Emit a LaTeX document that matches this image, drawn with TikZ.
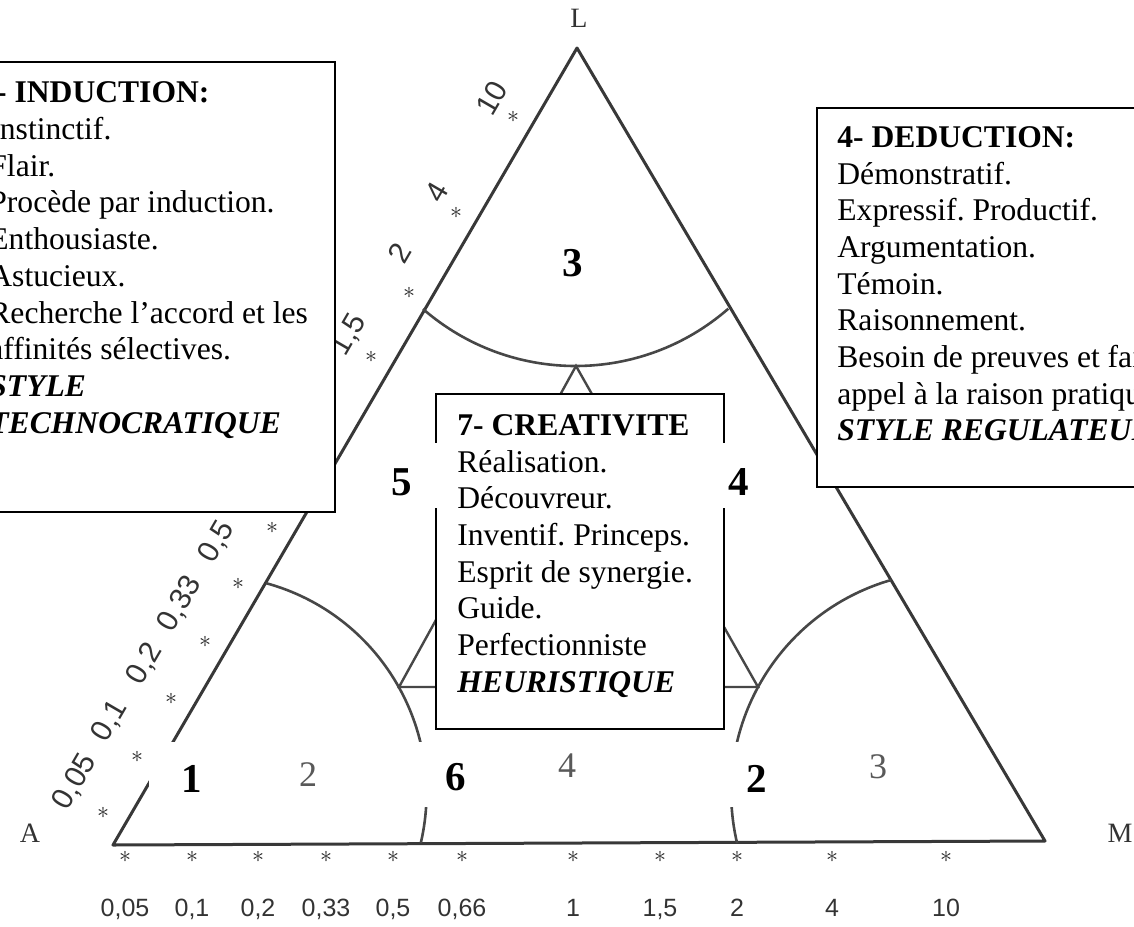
\documentclass[tikz,border=0pt]{standalone}
\usepackage{fontspec}
\setmainfont{Liberation Serif}
\setsansfont{Liberation Sans}
\frenchspacing
\begin{document}
\begin{tikzpicture}[x=0.5pt,y=-0.5pt,
  side/.style={line width=1.5pt, draw=black!78, line cap=round, line join=round},
  arcline/.style={line width=1.3pt, draw=black!72},
  innerline/.style={line width=1.2pt, draw=black!72},
  textbox/.style={draw=black, line width=1pt, fill=white},
  body/.style={inner sep=0pt, anchor=north west, align=left, font=\fontsize{15.8}{18.35}\selectfont},
  bignum/.style={inner sep=0pt, anchor=base, font=\fontsize{20.5}{24}\selectfont\bfseries},
  scannum/.style={inner sep=0pt, anchor=base, text=black!65, font=\fontsize{18}{20}\selectfont},
  scalelab/.style={inner sep=0pt, text=black!80, font=\sffamily\fontsize{12.5}{14}\selectfont},
  sidelab/.style={inner sep=0pt, text=black!80, rotate=59.8, font=\sffamily\fontsize{15}{17}\selectfont},
  astmark/.style={inner sep=0pt, text=black!85, font=\fontsize{12}{14}\selectfont},
  vertex/.style={inner sep=0pt, text=black!80, font=\fontsize{14}{16}\selectfont}
]
\useasboundingbox (0,0) rectangle (1134,926);
\clip (0,0) rectangle (1134,926);

% corners of the triangle
\coordinate (A) at (113,845);
\coordinate (L) at (577,48);
\coordinate (M) at (1045,841);
% corners of the small central triangle
\coordinate (T0) at (576,366);
\coordinate (Q1) at (399,687);
\coordinate (Q2) at (758,687);
% centres of the three zone arcs
\coordinate (Ct) at (575.5,133.5);
\coordinate (Ca) at (208.5,793.4);
\coordinate (Cm) at (952.5,792.6);

% main triangle
\draw[side] (A) -- (L) -- (M) -- cycle;

% zone arcs
\draw[arcline] ([shift={(131:232.5)}]Ct) arc[start angle=131, end angle=48.9, radius=232.5];
\draw[arcline] ([shift={(-74.7:218)}]Ca) arc[start angle=-74.7, end angle=13.1, radius=218];
\draw[arcline] ([shift={(-106.1:221.3)}]Cm) arc[start angle=-106.1, end angle=-193.2, radius=221.3];

% central triangle
\draw[innerline] (T0) -- (Q1) -- (Q2) -- cycle;

% scale marks along the base
\foreach \x [count=\i] in {125,192,258,326,393,462,573,660,737,832,946}
  \node[astmark, name=bs\i] at (\x,857) {$\ast$};
\node[scalelab, anchor=base] (b1) at (125,916) {0,05};
\node[scalelab, anchor=base] (b2) at (192,916) {0,1};
\node[scalelab, anchor=base] (b3) at (258,916) {0,2};
\node[scalelab, anchor=base] (b4) at (326,916) {0,33};
\node[scalelab, anchor=base] (b5) at (393,916) {0,5};
\node[scalelab, anchor=base] (b6) at (462,916) {0,66};
\node[scalelab, anchor=base] (b7) at (573,916) {1};
\node[scalelab, anchor=base] (b8) at (660,916) {1,5};
\node[scalelab, anchor=base] (b9) at (737,916) {2};
\node[scalelab, anchor=base] (b10) at (832,916) {4};
\node[scalelab, anchor=base] (b11) at (946,916) {10};

% scale marks along the left side
\foreach \x/\y [count=\i] in {103/813,137/757,171/699,205/642,238/584,272/528,327/432,371/357,409/293,456/213,513/117}
  \node[astmark, name=ls\i] at (\x,\y) {$\ast$};
\node[sidelab] (s1) at (75,782) {0,05};
\node[sidelab] (s2) at (110,721) {0,1};
\node[sidelab] (s3) at (145,664) {0,2};
\node[sidelab] (s4) at (180,604) {0,33};
\node[sidelab] (s5) at (217,542) {0,5};
\node[sidelab] (s6) at (252,484) {0,66};
\node[sidelab] (s7) at (307,403) {1};
\node[sidelab] (s8) at (349,335) {1,5};
\node[sidelab] (s9) at (400,253) {2};
\node[sidelab] (s10) at (437,192) {4};
\node[sidelab] (s11) at (492,98) {10};

% text frames
\draw[textbox] (-10,62) rectangle (335,512);
\draw[textbox] (817,108) rectangle (1145,487);
\draw[textbox] (436,394) rectangle (724,729);

% white grounds behind the zone numbers
\fill[white] (380,443) rectangle (762,508);
\fill[white] (149,742) rectangle (240,807);
\fill[white] (398,742) rectangle (505,807);
\fill[white] (700,742) rectangle (790,807);

% frame texts
\node[body] (induction) at (-11,76.8) {\hspace*{-4.5pt}\strut\textbf{5- INDUCTION:}\\
  Instinctif.\\ Flair.\\ Procède par induction.\\ Enthousiaste.\\ Astucieux.\\
  Recherche l’accord et les\\ affinités sélectives.\\
  \textbf{\textit{STYLE}}\\ \textbf{\textit{TECHNOCRATIQUE}}};
\node[body] (deduction) at (837,121.3) {\strut\textbf{4- DEDUCTION:}\\
  Démonstratif.\\ Expressif. Productif.\\ Argumentation.\\ Témoin.\\
  Raisonnement.\\ Besoin de preuves et fait\\ appel à la raison pratique.\\
  \textbf{\textit{STYLE REGULATEUR}}};
\node[body] (creativite) at (457,409.3) {\strut\textbf{7- CREATIVITE}\\
  Réalisation.\\ Découvreur.\\ Inventif. Princeps.\\ Esprit de synergie.\\
  Guide.\\ Perfectionniste\\ \textbf{\textit{HEURISTIQUE}}};

% zone numbers
\node[bignum] (z3) at (573,276) {3};
\node[bignum] (z5) at (402,495) {5};
\node[bignum] (z4) at (739,495) {4};
\node[bignum] (z1) at (192,792) {1};
\node[bignum] (z6) at (456,790) {6};
\node[bignum] (z2) at (757,792) {2};
\node[scannum] (g2) at (308,786) {2};
\node[scannum] (g4) at (567,777) {4};
\node[scannum] (g3) at (878,778) {3};

% corner letters
\node[vertex] (lA) at (30,833) {A};
\node[vertex] (lL) at (579,18) {L};
\node[vertex] (lM) at (1120,833) {M};
\end{tikzpicture}
\end{document}
